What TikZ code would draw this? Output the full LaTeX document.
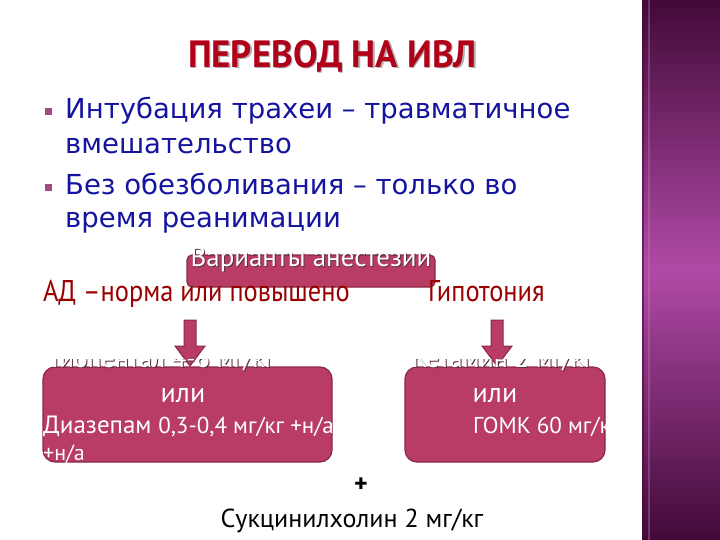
\documentclass[tikz,border=0pt]{standalone}
\usepackage{fontspec}
\setmainfont{PT Sans}
\newfontfamily\titlefont[FakeStretch=0.97]{PT Sans}
\newfontfamily\narrowfont[FakeStretch=0.88]{PT Sans}
\newfontfamily\bodyfont{DejaVu Sans}
\definecolor{boxpink}{HTML}{B83C64}
\definecolor{boxedge}{HTML}{8A2848}
\definecolor{titlered}{HTML}{B0001A}
\definecolor{adred}{HTML}{9A0000}
\definecolor{bodyblue}{HTML}{1414A0}
\definecolor{bulletc}{HTML}{A04A80}
\definecolor{bardark}{HTML}{420A38}
\definecolor{barmid}{HTML}{B04AA6}
\definecolor{shadowc}{HTML}{5A3040}
\tikzset{
  bodytext/.style={anchor=base west, inner sep=0, text=bodyblue, font=\bodyfont\fontsize{27.5}{32}\selectfont},
  bulletsq/.style={fill=bulletc, minimum size=7pt, inner sep=0},
  pinkbox/.style={draw=boxedge, line width=1.2pt, fill=boxpink, rounded corners=12pt},
  whitetext/.style={inner sep=0, text=white},
  redtext/.style={anchor=base west, inner sep=0, text=adred, font=\narrowfont\fontsize{30}{32}\selectfont},
  blockarrow/.style={draw=boxedge, fill=boxpink, line width=1pt, line join=miter}
}
\begin{document}
\begin{tikzpicture}[x=1pt,y=-1pt]
\useasboundingbox (0,0) rectangle (720,540);
\fill[white] (0,0) rectangle (720,540);
% right bar
\shade[top color=bardark, bottom color=bardark, middle color=barmid] (642,0) rectangle (720,540);
\fill[bardark, opacity=0.6] (642,0) rectangle (644,540);
\fill[barmid!70!white, opacity=0.35] (648,0) rectangle (650,540);
% title
\node[text=gray!60, font=\titlefont\bfseries\fontsize{38}{40}\selectfont, inner sep=0] at (334,57.5) {ПЕРЕВОД НА ИВЛ};
\node[text=titlered, font=\titlefont\bfseries\fontsize{38}{40}\selectfont, inner sep=0] (title) at (332.5,56) {ПЕРЕВОД НА ИВЛ};
% bullets
\node[bulletsq] (bu1) at (48.5,111.5) {};
\node[bodytext] (l1) at (65,119) {Интубация трахеи – травматичное};
\node[bodytext] (l2) at (65,154) {вмешательство};
\node[bulletsq] (bu2) at (48.5,188) {};
\node[bodytext] (l3) at (65,195) {Без обезболивания – только во};
\node[bodytext] (l4) at (65,228) {время реанимации};
% variants box
\draw[pinkbox, rounded corners=5pt] (187,255) rectangle (435,287);
\node[whitetext, text=shadowc, anchor=base, font=\fontsize{27}{29}\selectfont] at (312,267) {Варианты анестезии};
\node[whitetext, anchor=base, font=\fontsize{27}{29}\selectfont] (vari) at (311,266) {Варианты анестезии};
% conditions
\node[redtext] (ad) at (43,301) {АД –норма или повышено};
\node[redtext] (hyp) at (428,301) {Гипотония};
% boxes
\draw[pinkbox] (43,367) rectangle (332,462);
\draw[pinkbox] (405,367) rectangle (605,462);
% block arrows
\filldraw[blockarrow] (184,320) -- (196,320) -- (196,346) -- (205,346) -- (190,366) -- (175,346) -- (184,346) -- cycle;
\filldraw[blockarrow] (491,320) -- (503,320) -- (503,346) -- (512,346) -- (497,366) -- (482,346) -- (491,346) -- cycle;
% clipped top lines
\begin{scope}
\clip (0,359) rectangle (720,375);
\node[anchor=base west, inner sep=0, text=shadowc, font=\fontsize{26}{28}\selectfont] at (49,368) {Тиопентал 4-6 мг/кг};
\node[anchor=base west, whitetext, font=\fontsize{26}{28}\selectfont] (tio) at (48,367) {Тиопентал 4-6 мг/кг};
\node[anchor=base west, inner sep=0, text=shadowc, font=\fontsize{26}{28}\selectfont] at (413,368) {Кетамин 2 мг/кг};
\node[anchor=base west, whitetext, font=\fontsize{26}{28}\selectfont] (ket) at (412,367) {Кетамин 2 мг/кг};
\end{scope}
% box contents
\node[whitetext, anchor=base, font=\fontsize{28}{30}\selectfont] (ili1) at (183,402) {или};
\begin{scope}
\clip (0,367) rectangle (332,462);
\node[whitetext, anchor=base west, font=\fontsize{25}{27}\selectfont] (diaz) at (43,433) {Диазепам {\fontsize{23}{26}\selectfont 0,3-0,4 мг/кг +н/а}};
\end{scope}
\node[whitetext, anchor=base west, font=\fontsize{22}{24}\selectfont] (na) at (43,460) {+н/а};
\node[whitetext, anchor=base, font=\fontsize{28}{30}\selectfont] (ili2) at (495,402) {или};
\begin{scope}
\clip (405,367) rectangle (605,462);
\node[whitetext, anchor=base west, font=\fontsize{23}{26}\selectfont] (gomk) at (473,433) {ГОМК 60 мг/кг};
\end{scope}
% bottom
\node[inner sep=0, font=\bfseries\fontsize{26}{28}\selectfont] (plus) at (361,485) {+};
\node[anchor=base, inner sep=0, font=\fontsize{26}{28}\selectfont] (succ) at (352,527) {Сукцинилхолин 2 мг/кг};
\end{tikzpicture}
\end{document}
